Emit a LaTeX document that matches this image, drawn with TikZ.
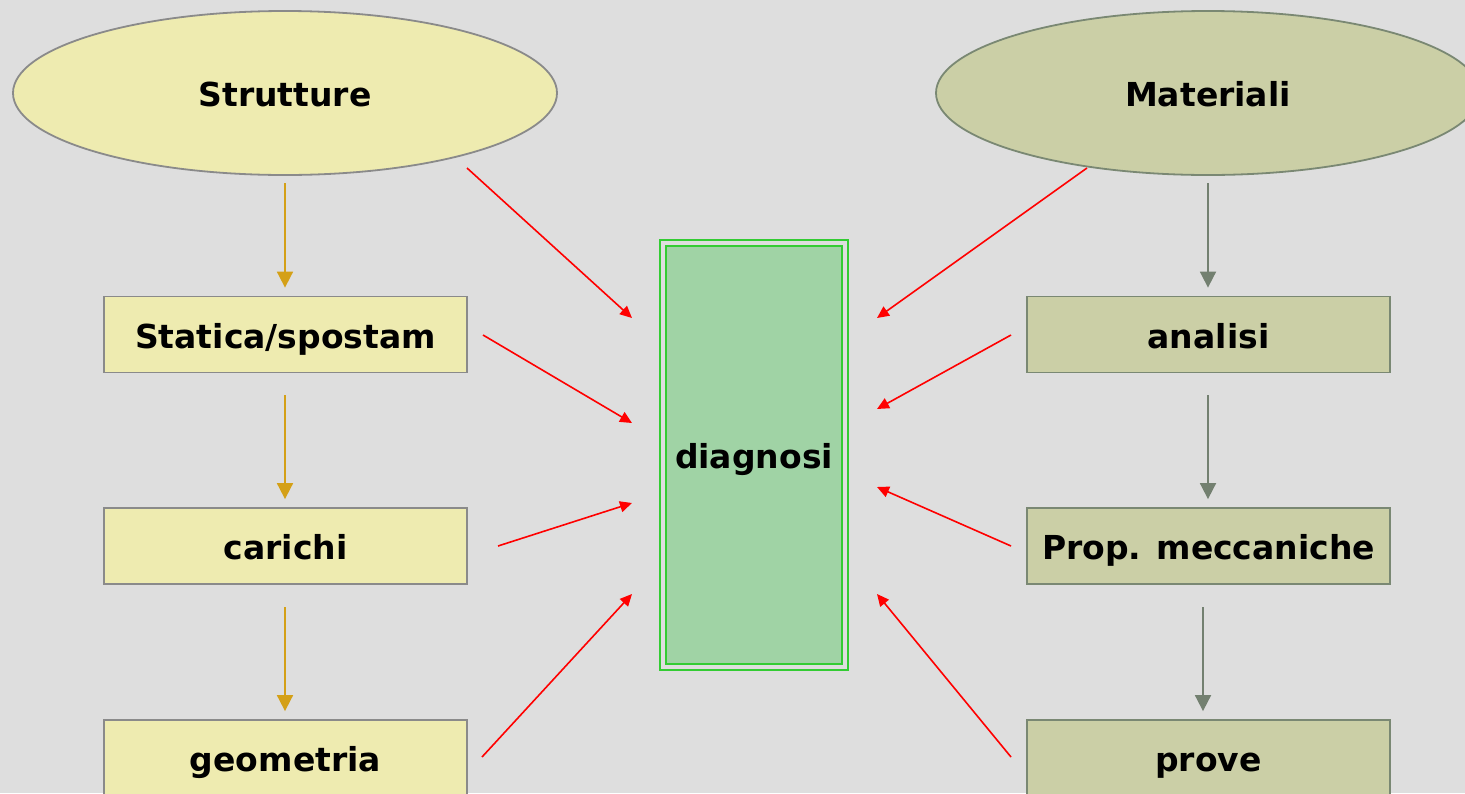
\documentclass[tikz,border=0pt]{standalone}
\usepackage{fontspec}
\setmainfont{DejaVu Sans}
\usetikzlibrary{shapes.geometric,arrows.meta}
\definecolor{bg}{HTML}{DEDEDE}
\definecolor{yfill}{HTML}{EEEBB0}
\definecolor{gfill}{HTML}{CBCFA6}
\definecolor{ydraw}{HTML}{8A8A8A}
\definecolor{gdraw}{HTML}{7A8873}
\definecolor{gold}{HTML}{D4A017}
\definecolor{sage}{HTML}{738070}
\definecolor{dfill}{HTML}{A0D3A5}
\definecolor{ddraw}{HTML}{33CC33}
\tikzset{
  lbl/.style={font=\fontsize{33}{40}\selectfont\bfseries, text=black, text height=27pt, text depth=0pt},
  ell/.style={ellipse, line width=1.8pt, inner sep=0pt, lbl},
  box/.style={rectangle, line width=1.8pt, minimum width=363pt, minimum height=76pt, inner sep=0pt, lbl},
  ybox/.style={box, fill=yfill, draw=ydraw},
  gbox/.style={box, fill=gfill, draw=gdraw},
  garrow/.style={-{Triangle[length=16pt,width=16pt]}, draw=gold, fill=gold, line width=1.8pt},
  sarrow/.style={-{Triangle[length=16pt,width=16pt]}, draw=sage, fill=sage, line width=1.8pt},
  rarrow/.style={-{Triangle[length=12pt,width=11pt]}, draw=red, fill=red, line width=1.6pt},
}
\begin{document}
\begin{tikzpicture}[x=1pt,y=-1pt]
\fill[bg] (0,0) rectangle (1465,793);
\clip (0,0) rectangle (1465,793);
\useasboundingbox (0,0) rectangle (1465,793);
% ellipses
\node[ell, fill=yfill, draw=ydraw, minimum width=544pt, minimum height=164pt] (strutture) at (285,93) {Strutture};
\node[ell, fill=gfill, draw=gdraw, minimum width=544pt, minimum height=164pt] (materiali) at (1208,93) {Materiali};
% left boxes
\node[ybox] (statica) at (285.5,334.5) {Statica/spostam};
\node[ybox] (carichi) at (285.5,546) {carichi};
\node[ybox] (geometria) at (285.5,758) {geometria};
% right boxes
\node[gbox] (analisi) at (1208.5,334.5) {analisi};
\node[gbox] (prop) at (1208.5,546) {Prop. meccaniche};
\node[gbox] (prove) at (1208.5,758) {prove};
% diagnosi
\node[rectangle, draw=ddraw, line width=2pt, minimum width=188pt, minimum height=430pt, inner sep=0pt] (diagout) at (754,455) {};
\node[rectangle, draw=ddraw, fill=dfill, line width=2.5pt, minimum width=176pt, minimum height=418pt, inner sep=0pt, lbl] (diagnosi) at (754,455) {diagnosi};
% vertical arrows
\coordinate (s1) at (285,183); \coordinate (s2) at (285,395); \coordinate (s3) at (285,607);
\coordinate (m1) at (1208,183); \coordinate (m2) at (1208,395); \coordinate (m3) at (1203,607);
\draw[garrow] (s1) -- ([yshift=8pt]statica.north -| s1);
\draw[garrow] (s2) -- ([yshift=8pt]carichi.north -| s2);
\draw[garrow] (s3) -- ([yshift=8pt]geometria.north -| s3);
\draw[sarrow] (m1) -- ([yshift=8pt]analisi.north -| m1);
\draw[sarrow] (m2) -- ([yshift=8pt]prop.north -| m2);
\draw[sarrow] (m3) -- ([yshift=8pt]prove.north -| m3);
% red arrows
\coordinate (a1) at (467,168); \coordinate (b1) at (632,318);
\coordinate (a2) at (483,335); \coordinate (b2) at (632,423);
\coordinate (a3) at (498,546); \coordinate (b3) at (632,503);
\coordinate (a4) at (482,757); \coordinate (b4) at (632,594);
\coordinate (c1) at (1087,168); \coordinate (d1) at (877,318);
\coordinate (c2) at (1011,335); \coordinate (d2) at (877,409);
\coordinate (c3) at (1011,546); \coordinate (d3) at (877,487);
\coordinate (c4) at (1011,757); \coordinate (d4) at (877,594);
\foreach \i in {1,2,3,4} {
  \draw[rarrow] (a\i) -- (b\i);
  \draw[rarrow] (c\i) -- (d\i);
}
\end{tikzpicture}
\end{document}
